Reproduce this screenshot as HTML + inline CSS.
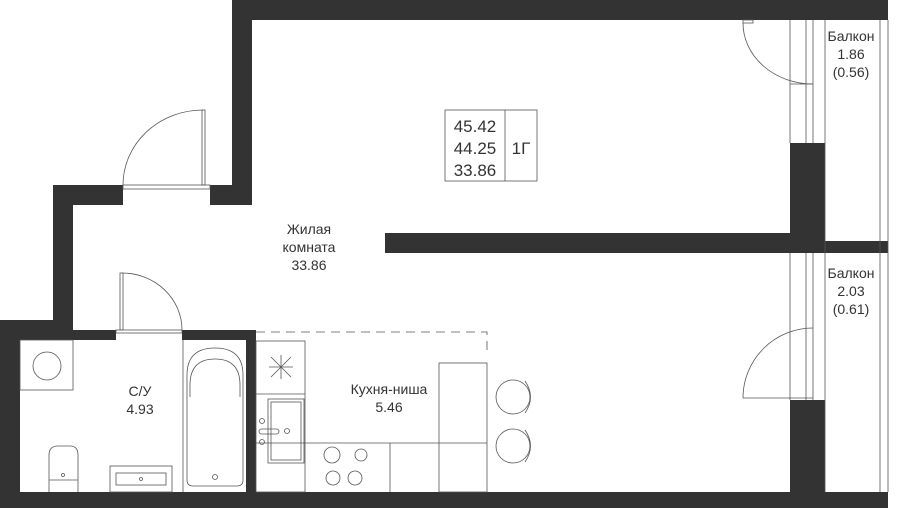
<!DOCTYPE html>
<html><head><meta charset="utf-8"><style>
html,body{margin:0;padding:0;background:#fff;}
svg{display:block;}
text{font-family:"Liberation Sans",sans-serif;fill:#333;}
</style></head><body>
<svg width="900" height="508" viewBox="0 0 900 508" xmlns="http://www.w3.org/2000/svg">
<g fill="#333">
<rect x="232" y="0" width="656" height="20"/>
<rect x="232" y="0" width="20" height="205"/>
<rect x="210" y="185" width="42" height="20"/>
<rect x="53" y="185" width="70" height="20"/>
<rect x="53" y="185" width="20" height="145"/>
<rect x="0" y="320" width="73" height="20"/>
<rect x="0" y="320" width="20" height="188"/>
<rect x="20" y="330" width="96" height="10"/>
<rect x="182" y="330" width="74" height="10"/>
<rect x="246" y="330" width="10" height="178"/>
<rect x="0" y="492" width="888" height="16"/>
<rect x="790" y="143" width="35" height="100"/>
<rect x="385" y="233" width="440" height="20"/>
<rect x="825" y="241" width="63" height="12"/>
<rect x="790" y="400" width="35" height="100"/>
</g>
<g fill="none" stroke="#555" stroke-width="0.8">
<rect x="123" y="185" width="87" height="4"/>
<rect x="202" y="110" width="3" height="75"/>
<path d="M123 185 A80 75 0 0 1 203 110"/>
<rect x="116" y="330" width="66" height="3"/>
<rect x="120" y="273" width="3" height="57"/>
<path d="M122 273 A60 57 0 0 1 182 330"/>
<line x1="790" y1="20" x2="790" y2="143"/>
<line x1="806" y1="20" x2="806" y2="143"/>
<line x1="813" y1="20" x2="813" y2="143"/>
<line x1="790" y1="253" x2="790" y2="400"/>
<line x1="806" y1="253" x2="806" y2="400"/>
<line x1="813" y1="253" x2="813" y2="400"/>
<line x1="825" y1="20" x2="825" y2="492"/>
<line x1="880" y1="20" x2="880" y2="492"/>
<line x1="888" y1="20" x2="888" y2="492"/>
<rect x="743" y="20" width="10" height="3"/>
<line x1="790" y1="84" x2="813" y2="84"/>
<path d="M743 23 A70 61 0 0 0 813 84"/>
<line x1="743" y1="398" x2="813" y2="398"/>
<path d="M743 398 A70 70 0 0 1 813 328"/>
<rect x="445" y="110" width="92" height="71"/>
<line x1="505" y1="110" x2="505" y2="181"/>
<rect x="20" y="340" width="53" height="50"/>
<circle cx="47" cy="366" r="14"/>
<path d="M49 492 V455 Q49 446 58 446 H70 Q78 446 78 455 V492"/>
<line x1="49" y1="480" x2="78" y2="480"/>
<circle cx="63" cy="475" r="1.5"/>
<rect x="110" y="466" width="62" height="26"/>
<rect x="116" y="473" width="50" height="12"/>
<circle cx="141" cy="479" r="1.5"/>
<line x1="183" y1="340" x2="183" y2="492"/>
<path d="M187 480 V375 Q187 348 215 348 Q243 348 243 375 V480 Q243 486 237 486 H193 Q187 486 187 480 Z"/>
<path d="M190 397 V385 Q190 359 215 359 Q240 359 240 385 V397"/>
<circle cx="215" cy="477" r="2.5"/>
<path d="M256 332 H487 V352" stroke-dasharray="9 6"/>
<rect x="256" y="341" width="49" height="151"/>
<line x1="256" y1="394" x2="305" y2="394"/>
<rect x="268" y="399" width="36" height="64"/>
<rect x="271" y="402" width="30" height="58"/>
<rect x="259" y="429" width="20" height="5" rx="2.5"/>
<circle cx="262" cy="421" r="2.5"/><circle cx="262" cy="442" r="2.5"/><circle cx="287" cy="431" r="2.5"/>
<line x1="256" y1="443" x2="487" y2="443"/>
<line x1="390" y1="443" x2="390" y2="492"/>
<rect x="439" y="363" width="48" height="129"/>
<circle cx="332" cy="455" r="8"/><circle cx="361" cy="455" r="6"/>
<circle cx="333" cy="478" r="7"/><circle cx="355" cy="478" r="7"/>
<circle cx="513" cy="397" r="17"/><circle cx="513" cy="446" r="17"/>
<path d="M525 381 Q536 397 525 413"/><path d="M525 430 Q536 446 525 462"/>
</g>
<g stroke="#555" stroke-width="0.8">
<line x1="271" y1="357" x2="291" y2="377"/><line x1="291" y1="357" x2="271" y2="377"/>
<line x1="281" y1="355" x2="281" y2="379"/><line x1="269" y1="367" x2="293" y2="367"/>
</g>
<g font-size="17" text-anchor="middle">
<text x="475" y="132">45.42</text>
<text x="475" y="154">44.25</text>
<text x="475" y="176">33.86</text>
<text x="521" y="154">1Г</text>
</g>
<g font-size="14" text-anchor="middle">
<text x="309" y="234">Жилая</text>
<text x="309" y="252">комната</text>
<text x="309" y="270">33.86</text>
<text x="140" y="396">С/У</text>
<text x="140" y="414">4.93</text>
<text x="389" y="394">Кухня-ниша</text>
<text x="389" y="412">5.46</text>
<text x="851" y="41">Балкон</text>
<text x="851" y="59">1.86</text>
<text x="851" y="77">(0.56)</text>
<text x="851" y="278">Балкон</text>
<text x="851" y="296">2.03</text>
<text x="851" y="314">(0.61)</text>
</g>
</svg>
</body></html>
